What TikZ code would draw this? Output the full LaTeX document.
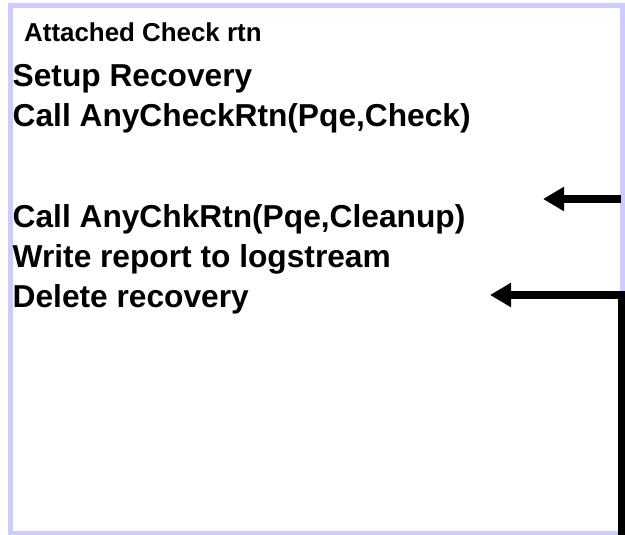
\documentclass[tikz,border=0pt]{standalone}
\usepackage{fontspec}
\setmainfont{Liberation Sans}
\usetikzlibrary{arrows.meta}
\definecolor{lavender}{HTML}{CCCCFF}
\tikzset{
  line/.style={font=\bfseries\fontsize{31.7}{38}\selectfont, anchor=base west, inner sep=0pt},
  title/.style={font=\bfseries\fontsize{25.9}{31}\selectfont, anchor=base west, inner sep=0pt},
  bigarrow/.style={line width=8pt, -{Triangle[length=21pt,width=23pt]}}
}
\begin{document}
\begin{tikzpicture}[x=1pt,y=-1pt]
\useasboundingbox (0,0) rectangle (625,535);
\draw[lavender, line width=5pt] (10.5,6) rectangle (622,533.5);
\node[title] (head) at (24,42) {Attached Check rtn};
\node[line] (setup) at (12.5,87) {Setup Recovery};
\node[line] (check) at (12.5,127) {Call AnyCheckRtn(Pqe,Check)};
\node[line] (clean) at (12.5,227) {Call AnyChkRtn(Pqe,Cleanup)};
\node[line] (write) at (12.5,267) {Write report to logstream};
\node[line] (delete) at (12.5,307) {Delete recovery};
\coordinate (in1) at (621,199);
\coordinate (tip1) at (543,199);
\coordinate (in2) at (621.5,536);
\coordinate (tip2) at (490,295);
\draw[bigarrow] (in1) -- (tip1);
\draw[bigarrow, line join=miter] (in2) |- (tip2);
\end{tikzpicture}
\end{document}
